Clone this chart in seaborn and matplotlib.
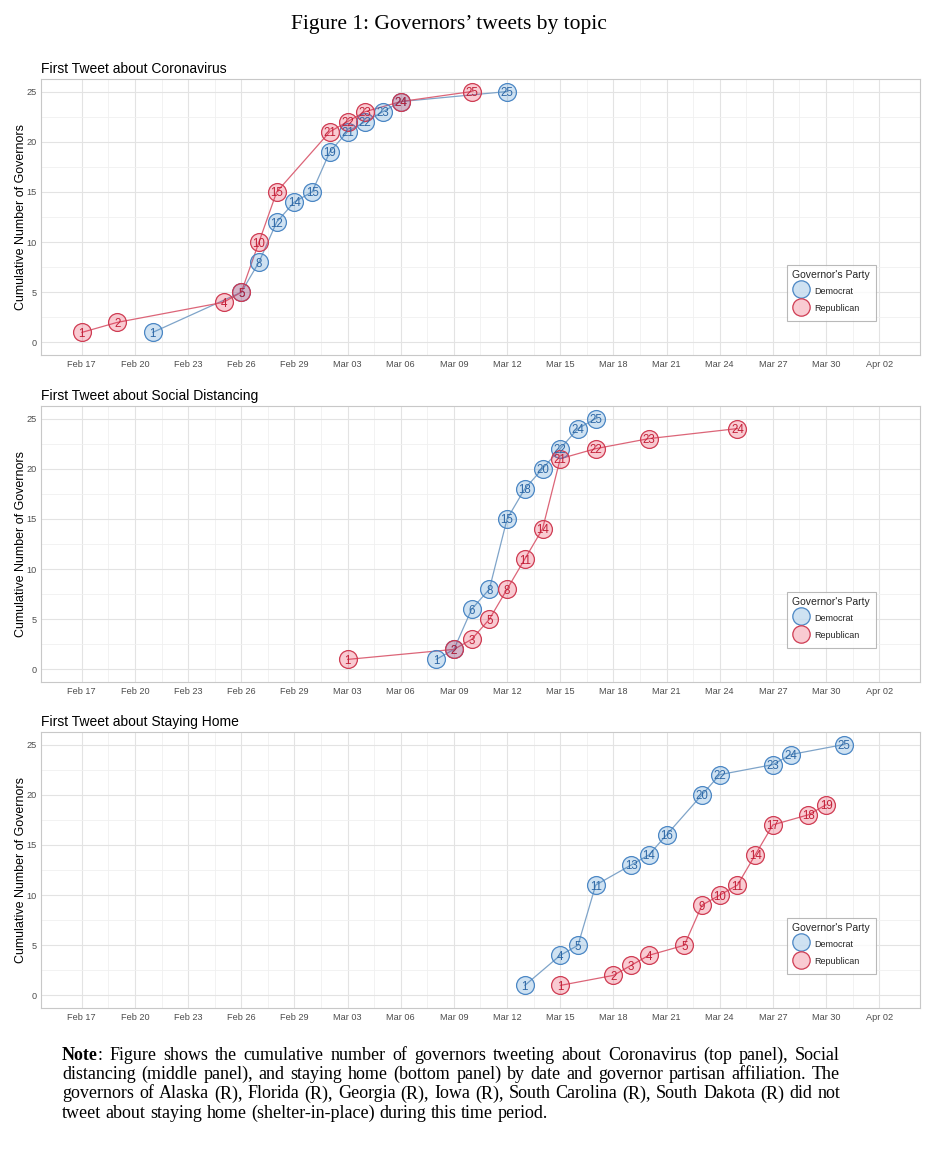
import numpy as np
import pandas as pd
import matplotlib
matplotlib.use("Agg")
import matplotlib.pyplot as plt
import matplotlib.dates as mdates
from matplotlib.lines import Line2D
import seaborn as sns

# ---------------- data ----------------
cv_dem_dates = ["2020-02-21", "2020-02-26", "2020-02-27", "2020-02-28", "2020-02-29", "2020-03-01",
                "2020-03-02", "2020-03-03", "2020-03-04", "2020-03-05", "2020-03-06", "2020-03-12"]
cv_dem_counts = [1, 5, 8, 12, 14, 15, 19, 21, 22, 23, 24, 25]
cv_rep_dates = ["2020-02-17", "2020-02-19", "2020-02-25", "2020-02-26", "2020-02-27", "2020-02-28",
                "2020-03-02", "2020-03-03", "2020-03-04", "2020-03-06", "2020-03-10"]
cv_rep_counts = [1, 2, 4, 5, 10, 15, 21, 22, 23, 24, 25]

sd_dem_dates = ["2020-03-08", "2020-03-09", "2020-03-10", "2020-03-11", "2020-03-12", "2020-03-13",
                "2020-03-14", "2020-03-15", "2020-03-16", "2020-03-17"]
sd_dem_counts = [1, 2, 6, 8, 15, 18, 20, 22, 24, 25]
sd_rep_dates = ["2020-03-03", "2020-03-09", "2020-03-10", "2020-03-11", "2020-03-12", "2020-03-13",
                "2020-03-14", "2020-03-15", "2020-03-17", "2020-03-20", "2020-03-25"]
sd_rep_counts = [1, 2, 3, 5, 8, 11, 14, 21, 22, 23, 24]

sh_dem_dates = ["2020-03-13", "2020-03-15", "2020-03-16", "2020-03-17", "2020-03-19", "2020-03-20",
                "2020-03-21", "2020-03-23", "2020-03-24", "2020-03-27", "2020-03-28", "2020-03-31"]
sh_dem_counts = [1, 4, 5, 11, 13, 14, 16, 20, 22, 23, 24, 25]
sh_rep_dates = ["2020-03-15", "2020-03-18", "2020-03-19", "2020-03-20", "2020-03-22", "2020-03-23",
                "2020-03-24", "2020-03-25", "2020-03-26", "2020-03-27", "2020-03-29", "2020-03-30"]
sh_rep_counts = [1, 2, 3, 4, 5, 9, 10, 11, 14, 17, 18, 19]

panel_titles = ["First Tweet about Coronavirus", "First Tweet about Social Distancing",
                "First Tweet about Staying Home"]
parties = ["Democrat", "Republican"]
y_ticks = [0, 5, 10, 15, 20, 25]
x_tick_start = "2020-02-17"
x_tick_end = "2020-04-02"

title_text = "Figure 1: Governors\u2019 tweets by topic"
note_bold = "Note"
note_lines = [
    ":  Figure shows the cumulative number of governors tweeting about Coronavirus (top panel), Social",
    "distancing (middle panel), and staying home (bottom panel) by date and governor partisan affiliation. The",
    "governors of Alaska (R), Florida (R), Georgia (R), Iowa (R), South Carolina (R), South Dakota (R) did not",
    "tweet about staying home (shelter-in-place) during this time period.",
]


def make_df(dd, dc, rd, rc):
    d = pd.DataFrame({"date": pd.to_datetime(dd), "count": dc, "party": "Democrat"})
    r = pd.DataFrame({"date": pd.to_datetime(rd), "count": rc, "party": "Republican"})
    return pd.concat([d, r], ignore_index=True)


panels = [
    make_df(cv_dem_dates, cv_dem_counts, cv_rep_dates, cv_rep_counts),
    make_df(sd_dem_dates, sd_dem_counts, sd_rep_dates, sd_rep_counts),
    make_df(sh_dem_dates, sh_dem_counts, sh_rep_dates, sh_rep_counts),
]

# ---------------- style ----------------
sns.set_theme(style="white")
plt.rcParams["font.family"] = ["Liberation Sans", "DejaVu Sans"]

line_col = {"Democrat": "#7fa4c9", "Republican": "#dc6578"}
base_fill = {"Democrat": (0.19, 0.51, 0.78), "Republican": (0.90, 0.12, 0.25)}
edge_col = {"Democrat": "#4a86c4", "Republican": "#cf3b52"}
text_col = {"Democrat": "#2e68a6", "Republican": "#c22038"}
FILL_ALPHA = 0.23

fig = plt.figure(figsize=(9.42, 11.6), dpi=100)
W, H = 942, 1160

panel_px = [(79, 355), (406, 682), (732, 1008)]
left_px, right_px = 41, 920

xmin = pd.Timestamp(x_tick_start) - pd.Timedelta(days=2.3)
xmax = pd.Timestamp(x_tick_end) + pd.Timedelta(days=2.3)
major_ticks = pd.date_range(x_tick_start, x_tick_end, freq="3D")
minor_ticks = major_ticks[:-1] + pd.Timedelta(hours=36)

for i, (df, (top, bot)) in enumerate(zip(panels, panel_px)):
    ax = fig.add_axes([left_px / W, 1 - bot / H, (right_px - left_px) / W, (bot - top) / H])
    ax.set_facecolor("white")
    for s in ax.spines.values():
        s.set_color("#c8c8c8")
        s.set_linewidth(0.8)

    sns.lineplot(data=df, x="date", y="count", hue="party", hue_order=parties,
                 palette=line_col, linewidth=0.9, legend=False, ax=ax, zorder=2)
    for p in parties:
        sub = df[df["party"] == p]
        fc = (*base_fill[p], FILL_ALPHA)
        sns.scatterplot(x=sub["date"], y=sub["count"], s=165, marker="o",
                        color=fc, edgecolor=edge_col[p], linewidth=0.9,
                        legend=False, ax=ax, zorder=3)
        for xd, yc in zip(sub["date"], sub["count"]):
            ax.text(mdates.date2num(xd), yc, str(yc), ha="center", va="center_baseline",
                    fontsize=8.3, color=text_col[p], zorder=4)

    ax.set_xlim(mdates.date2num(xmin), mdates.date2num(xmax))
    ax.set_ylim(-1.25, 26.25)
    ax.set_xticks(mdates.date2num(major_ticks))
    ax.set_xticklabels([d.strftime("%b %d") for d in major_ticks])
    ax.set_xticks(mdates.date2num(minor_ticks), minor=True)
    ax.set_yticks(y_ticks)
    ax.set_yticks([2.5, 7.5, 12.5, 17.5, 22.5], minor=True)
    ax.grid(which="major", color="#e3e3e3", linewidth=0.8)
    ax.grid(which="minor", color="#f0f0f0", linewidth=0.6)
    ax.set_axisbelow(True)
    ax.tick_params(axis="both", which="major", labelsize=6.6, colors="#b5b5b5",
                   labelcolor="#4d4d4d", length=2.0, width=0.6)
    ax.tick_params(axis="y", which="major", pad=1.0)
    ax.tick_params(axis="x", which="major", pad=1.5)
    ax.tick_params(axis="both", which="minor", length=0)
    ax.set_xlabel("")
    ax.set_ylabel("Cumulative Number of Governors", fontsize=9, color="black", labelpad=0)
    ax.text(0.0, 1.012, panel_titles[i], transform=ax.transAxes, ha="left", va="bottom",
            fontsize=10, color="black")

    handles = [Line2D([0], [0], marker="o", linestyle="none", markersize=12.5,
                      markerfacecolor=(*base_fill[p], FILL_ALPHA), markeredgecolor=edge_col[p],
                      markeredgewidth=0.9) for p in parties]
    leg_top_px = [265, 592, 918][i]
    leg = ax.legend(handles, parties, title="Governor's Party", loc="upper left",
                    bbox_to_anchor=((787 - left_px) / (right_px - left_px),
                                    (bot - leg_top_px) / (bot - top)),
                    frameon=True, fancybox=False, fontsize=6.5, title_fontsize=7.5,
                    handletextpad=0.6, labelspacing=0.4, borderpad=0.6,
                    handlelength=1.8, handleheight=2.0, borderaxespad=0)
    leg.get_frame().set_edgecolor("#a8a8a8")
    leg.get_frame().set_linewidth(0.8)
    leg._legend_box.align = "left"

# ---------------- title and note ----------------
serif = ["Liberation Serif", "DejaVu Serif"]
fig.text(449 / W, 1 - 25 / H, title_text, ha="center", va="center", fontsize=15.5,
         family=serif, color="black")

renderer = fig.canvas.get_renderer()
NOTE_FS = 13.0
x_left, x_right = 62, 840
line_y = [1055, 1074.5, 1094, 1113.5]


def place_line(tokens, y_px, justify):
    word_objs = []
    for word in tokens:
        parts = []
        for txt, wt in word:
            t = fig.text(0, 1 - y_px / H, txt, ha="left", va="center", fontsize=NOTE_FS,
                         family=serif, fontweight=wt, color="black")
            w = t.get_window_extent(renderer=renderer).width
            parts.append((t, w))
        word_objs.append(parts)
    widths = [sum(w for _, w in parts) for parts in word_objs]
    space_t = fig.text(0, 0, "a a", fontsize=NOTE_FS, family=serif)
    aa = fig.text(0, 0, "aa", fontsize=NOTE_FS, family=serif)
    sp = space_t.get_window_extent(renderer=renderer).width - aa.get_window_extent(renderer=renderer).width
    space_t.remove()
    aa.remove()
    if justify and len(widths) > 1:
        gap = (x_right - x_left - sum(widths)) / (len(widths) - 1)
    else:
        gap = sp
    x = x_left
    for parts, w in zip(word_objs, widths):
        xx = x
        for t, pw in parts:
            t.set_x(xx / W)
            xx += pw
        x += w + gap


for k, (ln, yy) in enumerate(zip(note_lines, line_y)):
    words = ln.split()
    tokens = [[(wd, "normal")] for wd in words]
    if k == 0:
        tokens[0] = [(note_bold, "bold"), (words[0], "normal")]
    place_line(tokens, yy, justify=(k < len(note_lines) - 1))

fig.savefig("out.png", dpi=100, facecolor="white")
